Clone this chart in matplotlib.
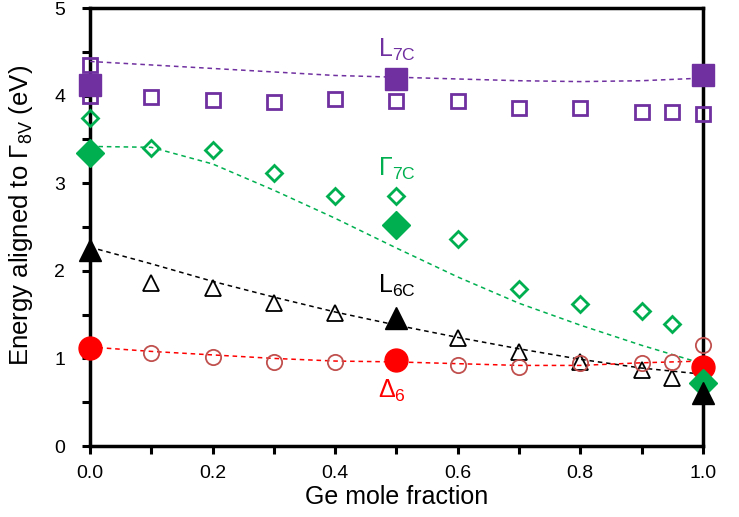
import matplotlib
matplotlib.use('Agg')
import matplotlib.pyplot as plt
from matplotlib.ticker import MultipleLocator
import numpy as np

plt.rcParams['font.family'] = ['Liberation Sans', 'DejaVu Sans']

# open symbols (calculated, all compositions)
x_open = [0.0, 0.1, 0.2, 0.3, 0.4, 0.5, 0.6, 0.7, 0.8, 0.9, 0.95, 1.0]
L7c_open = [3.99, 3.98, 3.95, 3.93, 3.96, 3.94, 3.94, 3.86, 3.86, 3.81, 3.81, 3.79]
L7c_open_extra_x = [0.0]
L7c_open_extra = [4.35]
G7c_open = [3.74, 3.40, 3.38, 3.12, 2.85, 2.85, 2.36, 1.79, 1.62, 1.54, 1.39, 0.90]
L6c_open_x = [0.1, 0.2, 0.3, 0.4, 0.6, 0.7, 0.8, 0.9, 0.95]
L6c_open = [1.86, 1.80, 1.63, 1.52, 1.23, 1.07, 0.96, 0.87, 0.78]
D6_open = [1.13, 1.06, 1.02, 0.96, 0.96, 0.96, 0.93, 0.90, 0.95, 0.95, 0.96, 1.15]

# filled symbols
x_fill = [0.0, 0.5, 1.0]
L7c_fill = [4.12, 4.19, 4.24]
G7c_fill = [3.34, 2.52, 0.72]
L6c_fill = [2.24, 1.46, 0.60]
D6_fill = [1.12, 0.98, 0.90]

# dashed guide curves
x_line = [0.0, 0.1, 0.2, 0.3, 0.4, 0.5, 0.6, 0.7, 0.8, 0.9, 1.0]
L7c_line = [4.39, 4.35, 4.31, 4.27, 4.23, 4.21, 4.19, 4.17, 4.16, 4.17, 4.20]
G7c_line = [3.42, 3.41, 3.22, 2.92, 2.60, 2.26, 1.93, 1.63, 1.38, 1.15, 0.94]
L6c_line = [2.27, 2.08, 1.88, 1.70, 1.53, 1.38, 1.24, 1.11, 0.99, 0.89, 0.82]
D6_line = [1.13, 1.08, 1.04, 1.00, 0.97, 0.96, 0.94, 0.92, 0.92, 0.95, 0.97]

purple = '#7030A0'
green = '#00B050'
red = '#FF0000'
brown = '#C0504D'

fig = plt.figure(figsize=(7.39, 5.17), dpi=100)
ax = fig.add_axes([0.1218, 0.1373, 0.951 - 0.1218, 0.9845 - 0.1373])

dash = dict(ls=(0, (3, 2.5)), lw=1.1, zorder=3)
ax.plot(x_line, L7c_line, color=purple, **dash)
ax.plot(x_line, G7c_line, color=green, **dash)
ax.plot(x_line, L6c_line, color='black', **dash)
ax.plot(x_line, D6_line, color=red, **dash)

op = dict(ls='none', mfc='none', mew=2.0, clip_on=False, zorder=4)
ax.plot(x_open, L7c_open, marker='s', ms=9.5, mec=purple, **op)
ax.plot(L7c_open_extra_x, L7c_open_extra, marker='s', ms=9.5, mec=purple, **op)
ax.plot(x_open, G7c_open, marker='D', ms=8.5, mec=green, **op)
ax.plot(L6c_open_x, L6c_open, marker='^', ms=11, mec='black', mew=1.3, ls='none', mfc='none', clip_on=False, zorder=4)
ax.plot(x_open, D6_open, marker='o', ms=11, mec=brown, mew=1.3, ls='none', mfc='none', clip_on=False, zorder=4)

fl = dict(ls='none', clip_on=False, zorder=5)
ax.plot(x_fill, L7c_fill, marker='s', ms=16, color=purple, **fl)
ax.plot(x_fill, D6_fill, marker='o', ms=16.5, color=red, **fl)
ax.plot(x_fill, G7c_fill, marker='D', ms=14.5, color=green, **fl)
ax.plot(x_fill, L6c_fill, marker='^', ms=16, color='black', **fl)

ax.text(0.47, 4.44, r'L$_{\mathregular{7C}}$', color=purple, fontsize=18)
ax.text(0.47, 3.09, r'Γ$_{\mathregular{7C}}$', color=green, fontsize=18)
ax.text(0.47, 1.75, r'L$_{\mathregular{6C}}$', color='black', fontsize=18)
ax.text(0.47, 0.55, r'Δ$_{\mathregular{6}}$', color=red, fontsize=18)

ax.set_xlim(0, 1)
ax.set_ylim(0, 5)
ax.xaxis.set_major_locator(MultipleLocator(0.2))
ax.xaxis.set_minor_locator(MultipleLocator(0.1))
ax.yaxis.set_major_locator(MultipleLocator(1))
ax.yaxis.set_minor_locator(MultipleLocator(0.5))
ax.xaxis.set_major_formatter(matplotlib.ticker.FormatStrFormatter('%.1f'))
ax.tick_params(which='both', direction='out', length=6, width=2.2, labelsize=14)
ax.tick_params(axis='x', pad=8)
ax.tick_params(axis='y', pad=12)
for s in ax.spines.values():
    s.set_linewidth(2.5)

ax.set_xlabel('Ge mole fraction', fontsize=18, labelpad=2)
ax.set_ylabel(r'Energy aligned to Γ$_{\mathregular{8V}}$ (eV)', fontsize=18.5)
ax.yaxis.set_label_coords(-0.09, 0.527)

fig.savefig('out.png', dpi=100)
